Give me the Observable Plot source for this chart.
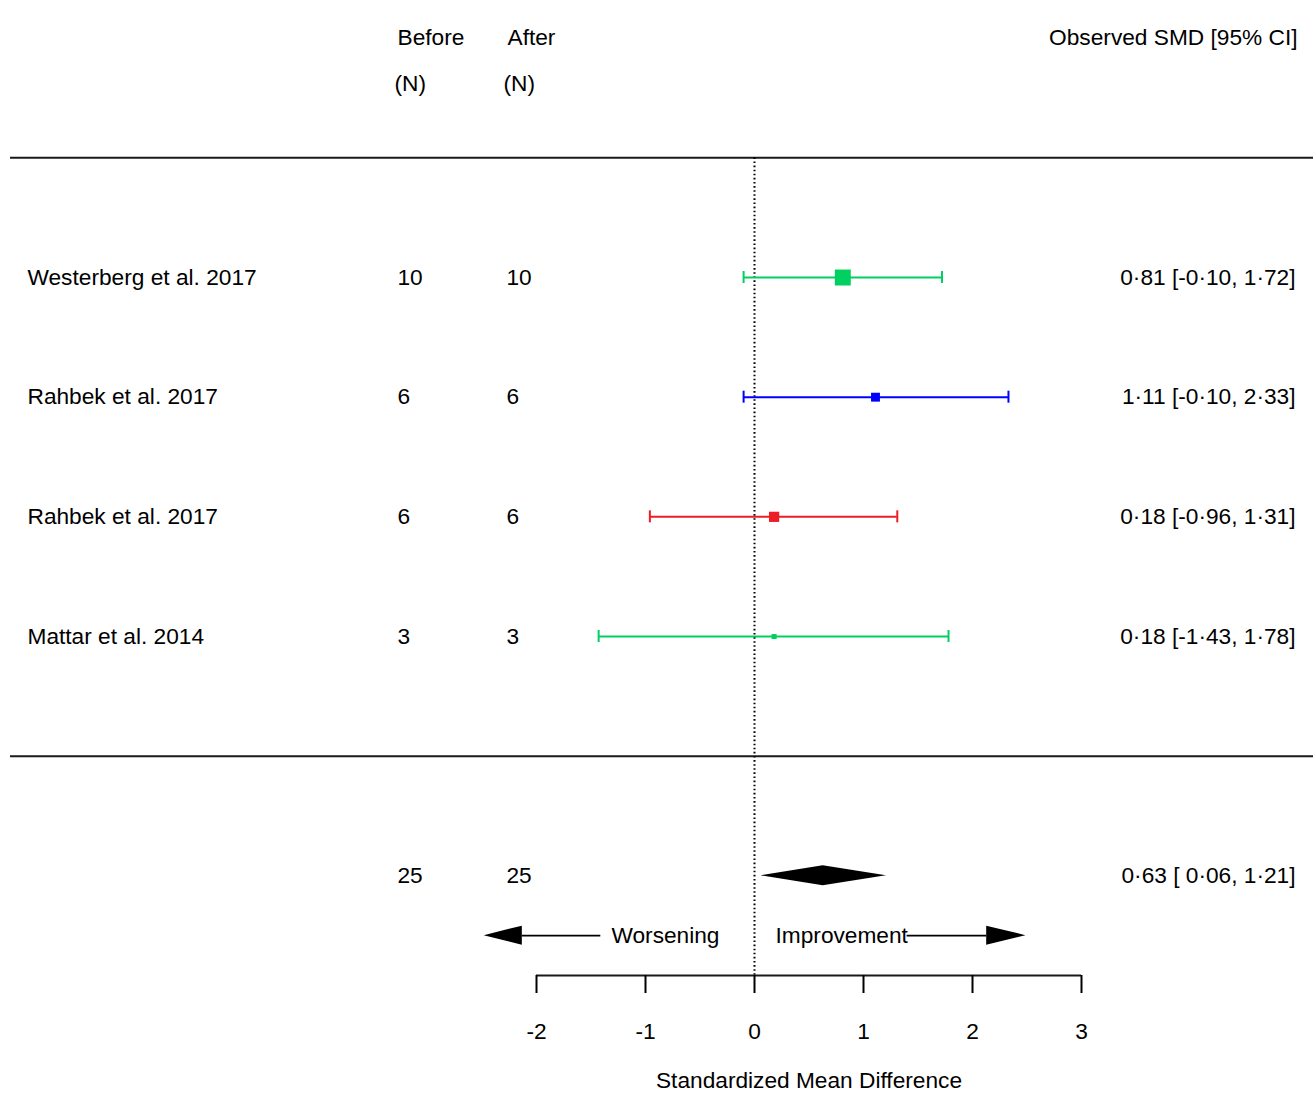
<!DOCTYPE html>
<html><head><meta charset="utf-8">
<script src="https://cdn.jsdelivr.net/npm/d3@7"></script>
<script src="https://cdn.jsdelivr.net/npm/@observablehq/plot@0.6"></script>
<style>body{margin:0;background:#fff;}</style>
</head><body><div id="chart"></div>
<script>
// ---- data ----
const studies = ["Westerberg et al. 2017", "Rahbek et al. 2017", "Rahbek et al. 2017", "Mattar et al. 2014"];
const nBefore = [10, 6, 6, 3];
const nAfter = [10, 6, 6, 3];
const smd = [0.81, 1.11, 0.18, 0.18];
const ciLow = [-0.10, -0.10, -0.96, -1.43];
const ciHigh = [1.72, 2.33, 1.31, 1.78];
const groups = ["g1", "g2", "g3", "g1"];
const groupNames = ["g1", "g2", "g3"];
const groupColors = ["#00d060", "#0000ff", "#ee1c24"];
const pooled = [0.63, 0.06, 1.21];   // estimate, lower, upper
const pooledN = [25, 25];            // before, after
const headers = ["Before", "After", "Observed SMD [95% CI]"];
const subHeaders = ["(N)", "(N)"];
const xTicks = [-2, -1, 0, 1, 2, 3];
const directionLabels = ["Worsening", "Improvement"];
const axisTitle = "Standardized Mean Difference";

// ---- layout ----
const W = 1316, H = 1095;
const yBottom = -1.833;           // axis row
const yUnitPx = (975 - 37.7) / (6 - yBottom);
const px = p => p / yUnitPx;      // px -> y units
const FS = 22.7;
const col = {study: 17, before: 387, after: 496, right: -18};

const fmt = v => (v < 0 ? "-" : "") + Math.abs(v).toFixed(2).replace(".", "\u00B7");
const fmtLo = v => (v < 0 ? "" : " ") + fmt(v);
const ciLabel = (e, l, h) => `${fmt(e)} [${fmtLo(l)}, ${fmt(h)}]`;

const rows = studies.map((name, i) => ({
  name, y: studies.length - i, before: nBefore[i], after: nAfter[i],
  est: smd[i], lo: ciLow[i], hi: ciHigh[i], group: groups[i],
  w: 1 / ((ciHigh[i] - ciLow[i]) / 3.92) ** 2,
  label: ciLabel(smd[i], ciLow[i], ciHigh[i])
}));
const wExt = d3.extent(rows, d => d.w);

const sumY = -1;
const dh = px(10);
const diamond = [
  {x: pooled[1], y1: sumY, y2: sumY},
  {x: pooled[0], y1: sumY - dh, y2: sumY + dh},
  {x: pooled[2], y1: sumY, y2: sumY}
];
const arrY = -1.5, ah = px(9.5);
const heads = [
  {side: "L", x: -2.48, y1: arrY, y2: arrY},
  {side: "L", x: -2.13, y1: arrY - ah, y2: arrY + ah},
  {side: "R", x: 2.13, y1: arrY - ah, y2: arrY + ah},
  {side: "R", x: 2.49, y1: arrY, y2: arrY}
];
const shafts = [{x1: -2.13, x2: -1.41}, {x1: 1.40, x2: 2.13}];

const textBase = {fontSize: FS, fill: "black"};

const chart = Plot.plot({
  width: W, height: H,
  marginLeft: 10, marginRight: 3, marginTop: 37.7, marginBottom: 120,
  x: {domain: [-2, 3], range: [536, 1081]},
  y: {domain: [yBottom, 6], axis: null},
  color: {domain: groupNames, range: groupColors},
  r: {type: "linear", domain: wExt, range: [2.85, 9]},
  style: {fontFamily: "'Liberation Sans', Arial, sans-serif", fontSize: "22px", color: "black", background: "white"},
  marks: [
    Plot.ruleY([5, 0], {stroke: "#1a1a1a", strokeWidth: 2}),
    Plot.ruleX([0], {y1: 5, y2: yBottom, stroke: "black", strokeWidth: 2, strokeDasharray: "1.6,2.5"}),
    // CI lines and caps
    Plot.ruleY(rows, {y: "y", x1: "lo", x2: "hi", stroke: "group", strokeWidth: 2}),
    Plot.ruleX(rows, {x: "lo", y1: "y", y2: "y", insetTop: -6, insetBottom: -6, stroke: "group", strokeWidth: 2}),
    Plot.ruleX(rows, {x: "hi", y1: "y", y2: "y", insetTop: -6, insetBottom: -6, stroke: "group", strokeWidth: 2}),
    Plot.dot(rows, {x: "est", y: "y", r: "w", symbol: "square", fill: "group", stroke: null}),
    // pooled diamond
    Plot.areaY(diamond, {x: "x", y1: "y1", y2: "y2", fill: "black", curve: "linear"}),
    // direction arrows
    Plot.ruleY(shafts, {y: arrY, x1: "x1", x2: "x2", stroke: "black", strokeWidth: 1.8}),
    Plot.areaY(heads, {x: "x", y1: "y1", y2: "y2", z: "side", fill: "black", curve: "linear"}),
    Plot.text([directionLabels[0]], {x: 0, y: arrY, dx: -35, textAnchor: "end", ...textBase}),
    Plot.text([directionLabels[1]], {x: 0, y: arrY, dx: 21, textAnchor: "start", ...textBase}),
    // axis
    Plot.ruleY([yBottom], {x1: xTicks[0], x2: xTicks[xTicks.length - 1], stroke: "#1a1a1a", strokeWidth: 2}),
    Plot.axisX({ticks: xTicks, tickSize: 18, tickPadding: 29, fontSize: FS, strokeWidth: 2, tickFormat: d => String(d), label: null}),
    Plot.text([axisTitle], {x: (xTicks[0] + xTicks[xTicks.length - 1]) / 2, frameAnchor: "bottom", dy: 112, ...textBase}),
    // headers
    Plot.text([headers[0]], {frameAnchor: "left", dx: col.before, y: 6, textAnchor: "start", ...textBase}),
    Plot.text([headers[1]], {frameAnchor: "left", dx: col.after + 1, y: 6, textAnchor: "start", ...textBase}),
    Plot.text([headers[2]], {frameAnchor: "right", dx: col.right + 2, y: 6, textAnchor: "end", ...textBase}),
    Plot.text([subHeaders[0]], {frameAnchor: "left", dx: col.before - 3, y: 6, dy: 46, textAnchor: "start", ...textBase}),
    Plot.text([subHeaders[1]], {frameAnchor: "left", dx: col.after - 3, y: 6, dy: 46, textAnchor: "start", ...textBase}),
    // study rows
    Plot.text(rows, {frameAnchor: "left", dx: col.study, y: "y", text: "name", textAnchor: "start", ...textBase}),
    Plot.text(rows, {frameAnchor: "left", dx: col.before, y: "y", text: d => String(d.before), textAnchor: "start", ...textBase}),
    Plot.text(rows, {frameAnchor: "left", dx: col.after, y: "y", text: d => String(d.after), textAnchor: "start", ...textBase}),
    Plot.text(rows, {frameAnchor: "right", dx: col.right, y: "y", text: "label", textAnchor: "end", ...textBase}),
    // pooled row
    Plot.text([pooledN[0]], {frameAnchor: "left", dx: col.before, y: sumY, text: d => String(d), textAnchor: "start", ...textBase}),
    Plot.text([pooledN[1]], {frameAnchor: "left", dx: col.after, y: sumY, text: d => String(d), textAnchor: "start", ...textBase}),
    Plot.text([ciLabel(...pooled)], {frameAnchor: "right", dx: col.right, y: sumY, textAnchor: "end", ...textBase})
  ]
});
document.getElementById("chart").appendChild(chart);
</script>
</body></html>
